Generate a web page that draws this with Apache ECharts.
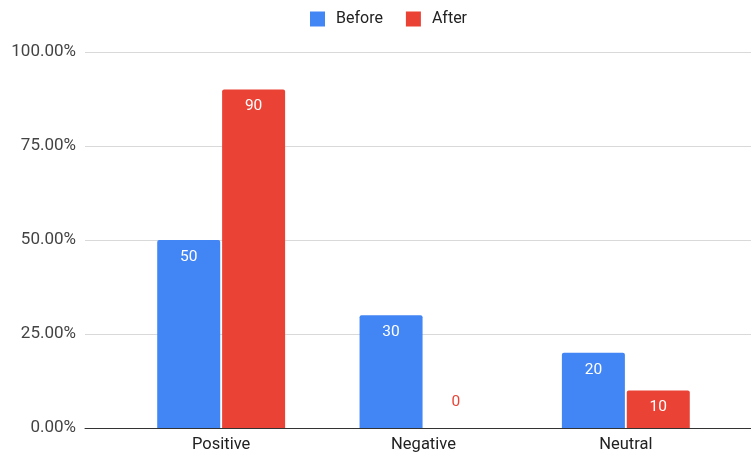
<!DOCTYPE html>
<html>
<head>
<meta charset="utf-8">
<script src="https://cdn.jsdelivr.net/npm/echarts@6/dist/echarts.min.js"></script>
<style>
  html, body { margin: 0; padding: 0; background: #fff; }
  #chart { width: 751px; height: 455px; }
</style>
</head>
<body>
<div id="chart"></div>
<script>
// Sentiment share before and after, in percent
const categories = ['Positive', 'Negative', 'Neutral'];
const beforeValues = [50, 30, 20];
const afterValues = [90, 0, 10];
const yTicks = [0, 25, 50, 75, 100];

const BLUE = '#4285F4';
const RED = '#EA4335';
const FONT = 'Roboto, "Noto Sans", Arial, sans-serif';

function barData(values, color) {
  return values.map(function (v) {
    if (v === 0) {
      // empty bar: put its value just above the baseline in the series colour
      return {
        value: v,
        label: { position: 'top', distance: 18, color: color }
      };
    }
    return v;
  });
}

function barSeries(name, values, color) {
  return {
    name: name,
    type: 'bar',
    xAxisIndex: 1,
    yAxisIndex: 1,
    barWidth: 63,
    barGap: '3%',
    itemStyle: { color: color, borderRadius: [2, 2, 0, 0] },
    label: {
      show: true,
      position: 'insideTop',
      distance: 9,
      color: '#ffffff',
      fontFamily: FONT,
      fontSize: 15.5
    },
    data: barData(values, color)
  };
}

const chart = echarts.init(document.getElementById('chart'), null, { renderer: 'canvas' });
chart.setOption({
  animation: false,
  textStyle: { fontFamily: FONT },
  legend: {
    top: 11,
    left: 310,
    padding: 0,
    itemWidth: 15,
    itemHeight: 15,
    itemGap: 23,
    icon: 'rect',
    textStyle: { fontFamily: FONT, fontSize: 16, color: '#222', padding: [0, 0, 0, 6] },
    data: ['Before', 'After']
  },
  grid: [
    // full-width frame for gridlines, y labels and baseline
    { left: 85, right: 0, top: 52, bottom: 27 },
    // inner band where the category slots sit
    { left: 120, right: 24, top: 52, bottom: 27 }
  ],
  xAxis: [
    {
      gridIndex: 0,
      type: 'value',
      min: 0,
      max: 1,
      axisLine: { show: true, onZero: true, lineStyle: { color: '#333', width: 1 } },
      axisTick: { show: false },
      axisLabel: { show: false },
      splitLine: { show: false }
    },
    {
      gridIndex: 1,
      type: 'category',
      data: categories,
      axisLine: { show: false },
      axisTick: { show: false },
      axisLabel: {
        margin: 8,
        color: '#222',
        fontFamily: FONT,
        fontSize: 16.5
      }
    }
  ],
  yAxis: [
    {
      gridIndex: 0,
      type: 'value',
      min: yTicks[0],
      max: yTicks[yTicks.length - 1],
      interval: 25,
      axisLine: { show: false },
      axisTick: { show: false },
      axisLabel: {
        margin: 9,
        color: '#444',
        fontFamily: FONT,
        fontSize: 17,
        formatter: function (v) { return v.toFixed(2) + '%'; }
      },
      splitLine: { show: true, lineStyle: { color: '#d9d9d9', width: 1 } }
    },
    {
      gridIndex: 1,
      type: 'value',
      min: yTicks[0],
      max: yTicks[yTicks.length - 1],
      interval: 25,
      show: false,
      splitLine: { show: false }
    }
  ],
  series: [
    barSeries('Before', beforeValues, BLUE),
    barSeries('After', afterValues, RED)
  ]
});
</script>
</body>
</html>
